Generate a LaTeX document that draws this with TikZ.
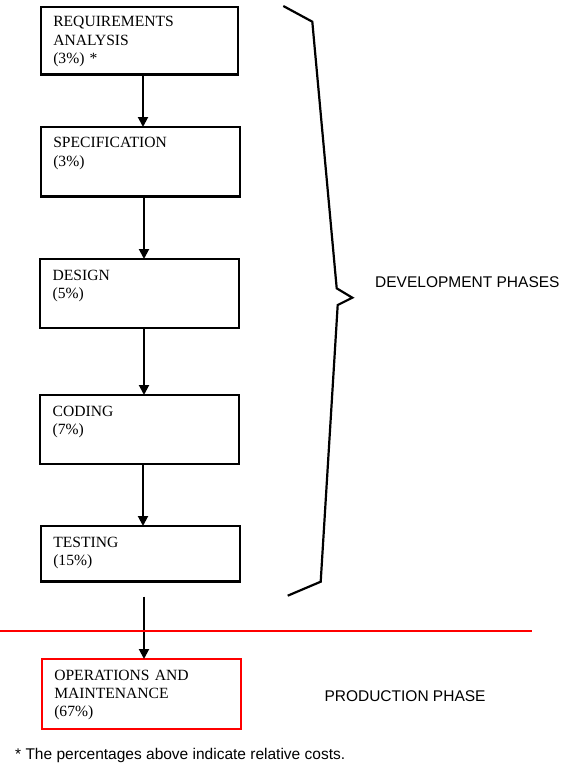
\documentclass[tikz,border=0pt]{standalone}
\usepackage{fontspec}
\setmainfont{Liberation Serif}
\setsansfont{Liberation Sans}
\usetikzlibrary{arrows.meta}
\begin{document}
\begin{tikzpicture}[x=1bp,y=-1bp,
  box/.style={draw=black, line width=2.2bp, inner sep=0pt, outer sep=0pt, rectangle},
  redbox/.style={box, draw=red, line width=2.4bp},
  boxtext/.style={anchor=base west, inner sep=0pt, outer sep=0pt, text width=185bp, align=left,
    font=\fontsize{15.6bp}{18.3bp}\selectfont},
  sanslabel/.style={anchor=base west, inner sep=0pt, font=\sffamily\fontsize{15.5bp}{18bp}\selectfont},
  arr/.style={draw=black, line width=2bp, -{Triangle[length=10bp,width=10bp]}},
  bracepath/.style={draw=black, line width=2.2bp, line join=miter},
  sepline/.style={draw=red, line width=2.2bp}]
\useasboundingbox (0,0) rectangle (564,766);

% boxes
\node[box, minimum width=197bp, minimum height=67.5bp] (req) at (139.5,40.75) {};
\node[box, minimum width=199bp, minimum height=69.5bp] (spec) at (140.5,161.75) {};
\node[box, minimum width=199bp, minimum height=69bp] (des) at (139.5,293.5) {};
\node[box, minimum width=199bp, minimum height=69bp] (cod) at (139.5,429.5) {};
\node[box, minimum width=199bp, minimum height=55.5bp] (tst) at (140.5,553.75) {};
\node[redbox, minimum width=199bp, minimum height=70bp] (ops) at (141.5,694) {};

% box texts
\node[boxtext] (reqt) at (53.3,27) {REQUIREMENTS\\ANALYSIS\\(3\%) *};
\node[boxtext] (spect) at (53.3,147.7) {SPECIFICATION\\(3\%)};
\node[boxtext] (dest) at (52.7,280) {DESIGN\\(5\%)};
\node[boxtext] (codt) at (52.7,416) {CODING\\(7\%)};
\node[boxtext] (tstt) at (53.3,547) {TESTING\\(15\%)};
\node[boxtext] (opst) at (54.3,680) {OPERATIONS AND\\MAINTENANCE\\(67\%)};

% connectors
\draw[arr] ([xshift=3.5bp]req.south) -- ([xshift=3.5bp]req.south |- spec.north);
\draw[arr] ([xshift=3.5bp]spec.south) -- ([xshift=3.5bp]spec.south |- des.north);
\draw[arr] ([xshift=4.5bp]des.south) -- ([xshift=4.5bp]des.south |- cod.north);
\draw[arr] ([xshift=3.5bp]cod.south) -- ([xshift=3.5bp]cod.south |- tst.north);
\coordinate (tstout) at (144,596.5);
\draw[arr] (tstout) -- (tstout |- ops.north);

% brace
\draw[bracepath] (283.3,6) -- (312.3,21.7) -- (336.7,288.3) -- (352.3,297.7)
  -- (337.7,305) -- (320.7,581.7) -- (287.7,595.7);
\node[sanslabel] (dev) at (375,287) {DEVELOPMENT PHASES};

% separator
\coordinate (sepl) at (0,630.7);
\coordinate (sepr) at (531.7,630.7);
\draw[sepline] (sepl) -- (sepr);

\node[sanslabel] (prod) at (324.3,701.7) {PRODUCTION PHASE};
\node[sanslabel] (foot) at (15,759.3) {* The percentages above indicate relative costs.};
\end{tikzpicture}
\end{document}
